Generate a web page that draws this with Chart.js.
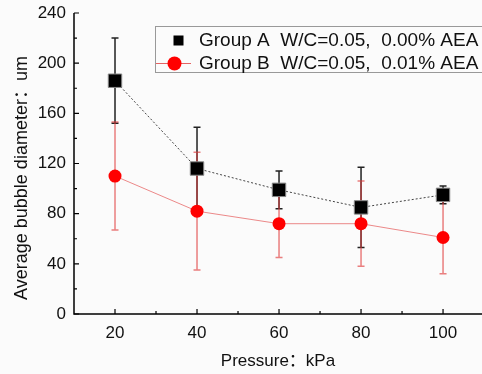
<!DOCTYPE html>
<html>
<head>
<meta charset="utf-8">
<script src="https://cdn.jsdelivr.net/npm/chart.js@4.4.1/dist/chart.umd.min.js"></script>
<style>
  html, body { margin: 0; padding: 0; background: #fbfbfb; overflow: hidden; }
  #wrap { width: 482px; height: 374px; }
</style>
</head>
<body>
<div id="wrap"><canvas id="bubbleChart" width="482" height="374"></canvas></div>
<script>
// data
const pressures = [20, 40, 60, 80, 100];
const groupA = [186, 116, 99, 85, 95];
const groupAErr = [34, 33, 15, 32, 7];
const groupB = [110, 82, 72, 72, 61];
const groupBErr = [43, 47, 27, 34, 29];
const xTicks = [20, 40, 60, 80, 100];
const xMinorTicks = [30, 50, 70, 90];
const yTicks = [0, 40, 80, 120, 160, 200, 240];
const yMinorTicks = [20, 60, 100, 140, 180, 220];
const labelA = 'Group A  W/C=0.05,  0.00% AEA';
const labelB = 'Group B  W/C=0.05,  0.01% AEA';
const xTitle = 'Pressure：kPa';
const yTitle = 'Average bubble diameter：um';

const FONT = "'Liberation Sans', Arial, 'Noto Sans CJK SC', sans-serif";
const errors = [groupAErr, groupBErr];
const errColors = ['#222', 'rgba(225,60,60,0.65)'];

// drop the label overflow padding so the plot area sits where we put it
const noPad = s => { s.paddingLeft = s.paddingRight = s.paddingTop = s.paddingBottom = 0; };

const extras = {
  id: 'extras',
  beforeDraw(chart) {
    const ctx = chart.ctx;
    ctx.save();
    ctx.fillStyle = '#fbfbfb';
    ctx.fillRect(0, 0, chart.width, chart.height);
    ctx.restore();
  },
  beforeDatasetsDraw(chart) {
    const ctx = chart.ctx;
    const xs = chart.scales.x, ys = chart.scales.y;
    ctx.save();
    chart.data.datasets.forEach((ds, d) => {
      ctx.strokeStyle = errColors[d];
      ctx.lineWidth = 1.5;
      ds.data.forEach((p, i) => {
        const x = xs.getPixelForValue(p.x);
        const top = ys.getPixelForValue(p.y + errors[d][i]);
        const bot = ys.getPixelForValue(p.y - errors[d][i]);
        ctx.beginPath();
        ctx.moveTo(x, top); ctx.lineTo(x, bot);
        ctx.moveTo(x - 3.5, top); ctx.lineTo(x + 3.5, top);
        ctx.moveTo(x - 3.5, bot); ctx.lineTo(x + 3.5, bot);
        ctx.stroke();
      });
    });
    ctx.restore();
  },
  afterDraw(chart) {
    const ctx = chart.ctx;
    const xs = chart.scales.x, ys = chart.scales.y;
    const area = chart.chartArea;
    ctx.save();
    // axis lines
    ctx.strokeStyle = '#000';
    ctx.lineWidth = 1.5;
    ctx.beginPath();
    ctx.moveTo(area.left, area.top);
    ctx.lineTo(area.left, area.bottom);
    ctx.lineTo(area.right, area.bottom);
    ctx.stroke();
    // inside ticks
    ctx.lineWidth = 1.2;
    ctx.beginPath();
    xTicks.forEach(v => { const x = xs.getPixelForValue(v); ctx.moveTo(x, area.bottom); ctx.lineTo(x, area.bottom - 5); });
    xMinorTicks.forEach(v => { const x = xs.getPixelForValue(v); ctx.moveTo(x, area.bottom); ctx.lineTo(x, area.bottom - 3); });
    yTicks.forEach(v => { const y = ys.getPixelForValue(v); ctx.moveTo(area.left, y); ctx.lineTo(area.left + 5, y); });
    yMinorTicks.forEach(v => { const y = ys.getPixelForValue(v); ctx.moveTo(area.left, y); ctx.lineTo(area.left + 3, y); });
    ctx.stroke();

    // axis titles
    ctx.fillStyle = '#111';
    ctx.textAlign = 'center';
    ctx.textBaseline = 'middle';
    ctx.font = '17px ' + FONT;
    ctx.fillText(xTitle, (area.left + area.right) / 2, 361);
    ctx.save();
    ctx.translate(22, 178);
    ctx.rotate(-Math.PI / 2);
    ctx.font = '18px ' + FONT;
    ctx.fillText(yTitle, 0, 0);
    ctx.restore();

    // legend
    ctx.strokeStyle = '#999';
    ctx.lineWidth = 1;
    ctx.strokeRect(155.5, 26.5, 340, 46);
    ctx.fillStyle = '#000';
    ctx.fillRect(173.5, 35.5, 10, 10);
    ctx.strokeStyle = 'rgba(225,60,60,0.8)';
    ctx.beginPath();
    ctx.moveTo(156, 63.5); ctx.lineTo(191, 63.5);
    ctx.stroke();
    ctx.fillStyle = '#f00';
    ctx.beginPath();
    ctx.arc(174.5, 63.5, 7, 0, Math.PI * 2);
    ctx.fill();
    ctx.fillStyle = '#111';
    ctx.textAlign = 'left';
    ctx.font = '19px ' + FONT;
    ctx.fillText(labelA, 199, 41);
    ctx.fillText(labelB, 199, 64);
    ctx.restore();
  }
};

const ctx = document.getElementById('bubbleChart').getContext('2d');
new Chart(ctx, {
  type: 'line',
  data: {
    datasets: [{
      label: labelA,
      data: pressures.map((p, i) => ({ x: p, y: groupA[i] })),
      borderColor: '#444',
      borderWidth: 1,
      borderDash: [2, 2],
      pointStyle: 'rect',
      pointRadius: 9.5,
      pointBackgroundColor: '#000',
      pointBorderColor: '#888',
      pointBorderWidth: 1,
      tension: 0
    }, {
      label: labelB,
      data: pressures.map((p, i) => ({ x: p, y: groupB[i] })),
      borderColor: 'rgba(225,60,60,0.6)',
      borderWidth: 1,
      pointStyle: 'circle',
      pointRadius: 6.5,
      pointBackgroundColor: '#f00',
      pointBorderColor: '#f00',
      pointBorderWidth: 0,
      tension: 0
    }]
  },
  options: {
    responsive: false,
    animation: false,
    devicePixelRatio: 1,
    layout: { autoPadding: false, padding: { top: 13, right: 0, left: 0, bottom: 0 } },
    plugins: { legend: { display: false }, tooltip: { enabled: false } },
    scales: {
      x: {
        type: 'linear',
        min: 10,
        max: 109.5,
        afterBuildTicks: s => { s.ticks = xTicks.map(v => ({ value: v })); },
        afterFit: s => { s.height = 60; noPad(s); },
        grid: { display: false, drawTicks: false },
        border: { display: false },
        ticks: { padding: 9, color: '#111', font: { size: 17, family: FONT } }
      },
      y: {
        min: 0,
        max: 240,
        afterBuildTicks: s => { s.ticks = yTicks.map(v => ({ value: v })); },
        afterFit: s => { s.width = 74; noPad(s); },
        grid: { display: false, drawTicks: false },
        border: { display: false },
        ticks: { padding: 8, color: '#111', font: { size: 17, family: FONT } }
      }
    }
  },
  plugins: [extras]
});
</script>
</body>
</html>
